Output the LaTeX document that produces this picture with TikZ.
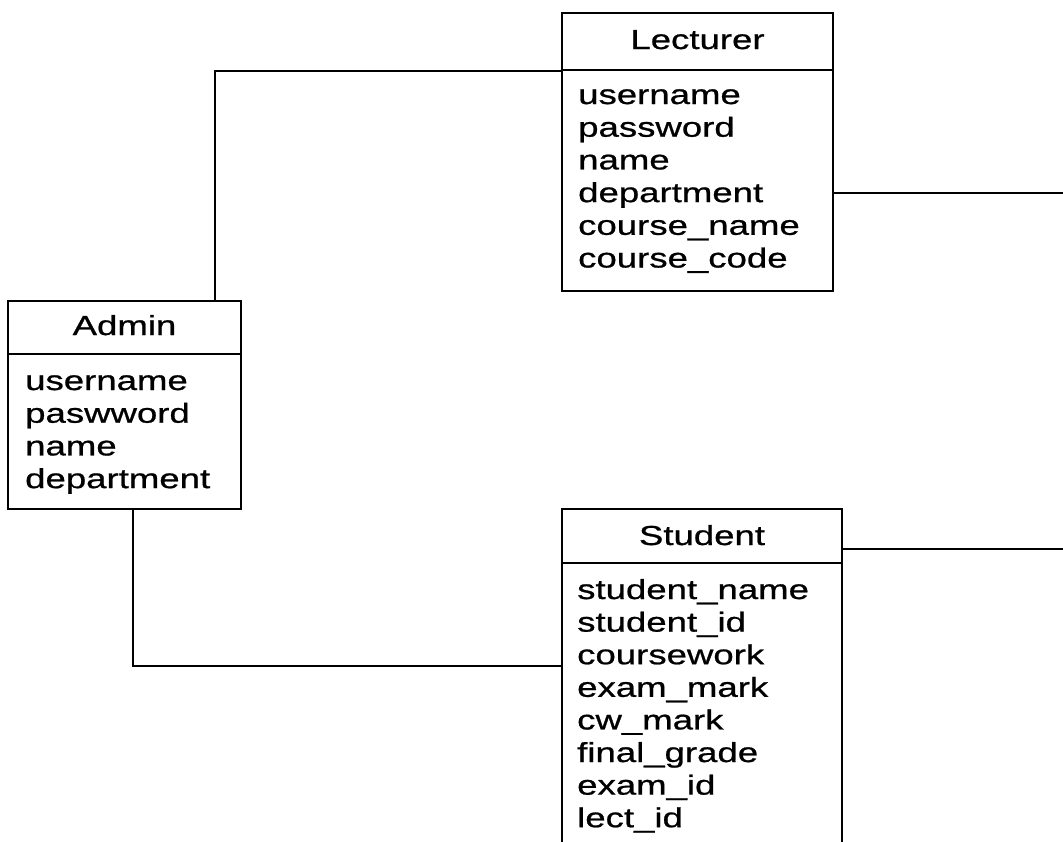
\documentclass[tikz,border=0pt]{standalone}
\usepackage{fontspec}
\newfontfamily\erfont[FakeStretch=1.33,FakeBold=0.8]{Liberation Sans}
\usetikzlibrary{calc}
\begin{document}
\begin{tikzpicture}[x=1pt,y=-1pt,
  box/.style={draw, line width=2.6pt, inner sep=0pt, outer sep=0pt, anchor=north west},
  link/.style={draw, line width=1.1pt},
  hd/.style={inner sep=0pt, anchor=base, font=\erfont\fontsize{27.5}{32.7}\selectfont},
  row/.style={inner sep=0pt, anchor=base west, font=\erfont\fontsize{27.5}{32.7}\selectfont}]
\useasboundingbox (0,0) rectangle (1063,841);
\clip (0,0) rectangle (1063,841);
\fill[white] (0,0) rectangle (1063,841);
% Lecturer
\node[box, minimum width=271pt, minimum height=57pt] (lh) at (562,13) {};
\node[box, minimum width=271pt, minimum height=221pt] (lb) at (562,70) {};
\node[hd] (lt) at (697.5,49) {Lecturer};
\foreach \t [count=\i] in {username,password,name,department,course\_name,course\_code}
  \node[row] (lrow\i) at (578,{104+(\i-1)*32.7}) {\t};
% Admin
\node[box, minimum width=233pt, minimum height=53pt] (ah) at (8,301) {};
\node[box, minimum width=233pt, minimum height=155pt] (ab) at (8,354) {};
\node[hd] (at) at (124.5,335) {Admin};
\foreach \t [count=\i] in {username,paswword,name,department}
  \node[row] (arow\i) at (25,{390+(\i-1)*32.7}) {\t};
% Student
\node[box, minimum width=280pt, minimum height=54pt] (sh) at (562,509) {};
\node[box, minimum width=280pt, minimum height=320pt] (sb) at (562,563) {};
\node[hd] (st) at (702,545) {Student};
\foreach \t [count=\i] in {student\_name,student\_id,coursework,exam\_mark,cw\_mark,final\_grade,exam\_id,lect\_id}
  \node[row] (srow\i) at (577,{599+(\i-1)*32.6}) {\t};
% connectors
\coordinate (admtop) at ($(ah.north west)+(207,0)$);
\coordinate (lecin) at ($(lh.south west)+(0,1)$);
\draw[link] (lecin) -| (admtop);
\coordinate (lright) at (1063,193);
\draw[link] (lb.east |- lright) -- (lright);
\coordinate (abot) at ($(ab.south west)+(125,0)$);
\coordinate (sleft) at ($(sb.north west)+(0,103)$);
\draw[link] (abot) |- (sleft);
\coordinate (sright) at (1063,549);
\draw[link] (sh.east |- sright) -- (sright);
\end{tikzpicture}
\end{document}
